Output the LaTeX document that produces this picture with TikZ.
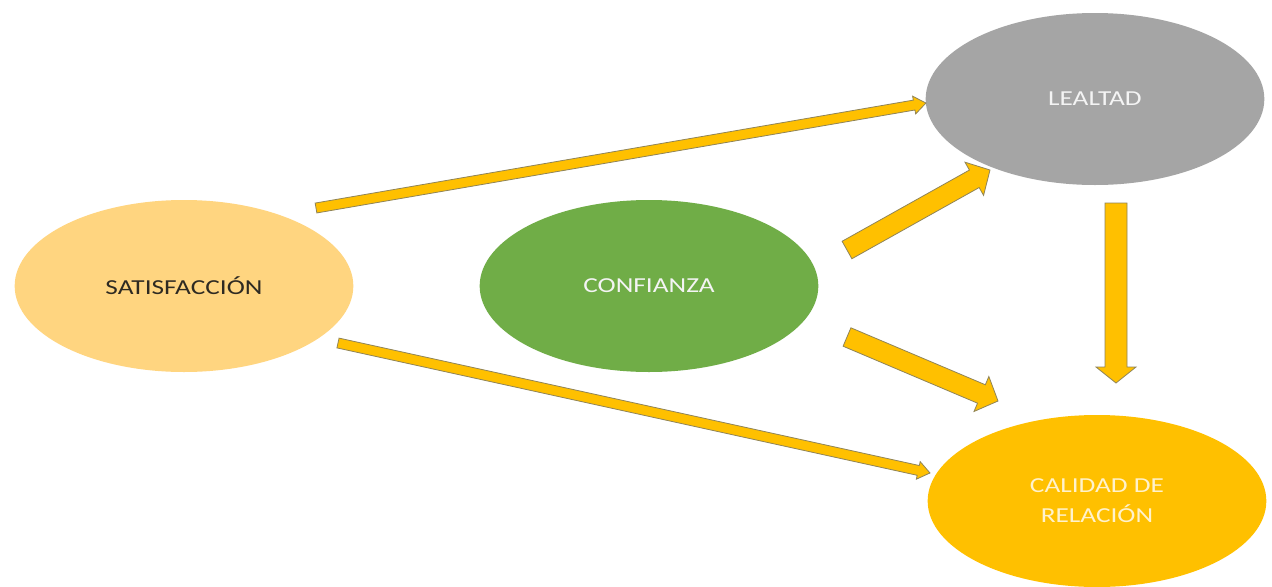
\documentclass[tikz,border=0pt]{standalone}
\usepackage{fontspec}
\setmainfont{Carlito}
\usetikzlibrary{shapes.geometric,calc}

\definecolor{satfill}{HTML}{FFD580}
\definecolor{conffill}{HTML}{70AD47}
\definecolor{lealfill}{HTML}{A5A5A5}
\definecolor{calfill}{HTML}{FFC000}
\definecolor{arrowfill}{HTML}{FFC000}
\definecolor{arrowedge}{HTML}{8F8458}
\definecolor{darktext}{HTML}{2E2A22}
\definecolor{lighttext}{HTML}{F4F4F4}
\definecolor{creamtext}{HTML}{FFF2CC}

% horizontally widened label text
\newcommand\widetxt[1]{\scalebox{1.28}[1]{#1}}

% block arrow from #1 to #2: shaft width #3, head width #4, head length #5 (in px units)
\newcommand\blockarrow[5]{%
  \filldraw[fill=arrowfill, draw=arrowedge, line width=0.6pt, line join=miter]
    let \p1=(#1), \p2=(#2),
        \n1={atan2(\y2-\y1,\x2-\x1)},
        \n2={veclen(\x2-\x1,\y2-\y1)} in
    ([shift={(\p1)},rotate=\n1] 0pt,{#3*0.375pt})
    -- ([shift={(\p1)},rotate=\n1] {\n2-#5*0.75pt},{#3*0.375pt})
    -- ([shift={(\p1)},rotate=\n1] {\n2-#5*0.75pt},{#4*0.375pt})
    -- ([shift={(\p1)},rotate=\n1] {\n2},0pt)
    -- ([shift={(\p1)},rotate=\n1] {\n2-#5*0.75pt},{-#4*0.375pt})
    -- ([shift={(\p1)},rotate=\n1] {\n2-#5*0.75pt},{-#3*0.375pt})
    -- ([shift={(\p1)},rotate=\n1] 0pt,{-#3*0.375pt})
    -- cycle;%
}

\tikzset{
  bubble/.style={ellipse, draw=none, inner sep=0pt,
    minimum width=254pt, minimum height=129pt,
    font=\fontsize{16}{22.5}\selectfont, align=center},
}

\begin{document}
\begin{tikzpicture}[x=0.75pt,y=-0.75pt]
  \useasboundingbox[fill=white] (0,0) rectangle (1272,586);

  \node[bubble, fill=satfill, text=darktext]   (sat)  at (184,286)  {\widetxt{SATISFACCIÓN}};
  \node[bubble, fill=conffill, text=lighttext] (conf) at (649,286)  {\widetxt{CONFIANZA}};
  \node[bubble, fill=lealfill, text=lighttext] (leal) at (1095,99)  {\widetxt{LEALTAD}};
  \node[bubble, fill=calfill, text=creamtext]  (cal)  at (1097,501) {\widetxt{CALIDAD DE}\\\widetxt{RELACIÓN}};

  % arrow end points
  \coordinate (satTop)   at (316,208);
  \coordinate (lealIn1)  at (926,103);
  \coordinate (satBot)   at (338,343);
  \coordinate (calIn1)   at (930,473);
  \coordinate (confTop)  at (847,250);
  \coordinate (lealIn2)  at (990,170);
  \coordinate (confBot)  at (847,337);
  \coordinate (calIn2)   at (998,401);
  \coordinate (lealOut)  at (1116,203);
  \coordinate (calIn3)   at (1116,383);

  \blockarrow{satTop}{lealIn1}{10}{18}{12}
  \blockarrow{satBot}{calIn1}{10}{18}{12}
  \blockarrow{confTop}{lealIn2}{20}{38}{18}
  \blockarrow{confBot}{calIn2}{20}{38}{18}
  \blockarrow{lealOut}{calIn3}{22}{40}{16}
\end{tikzpicture}
\end{document}
